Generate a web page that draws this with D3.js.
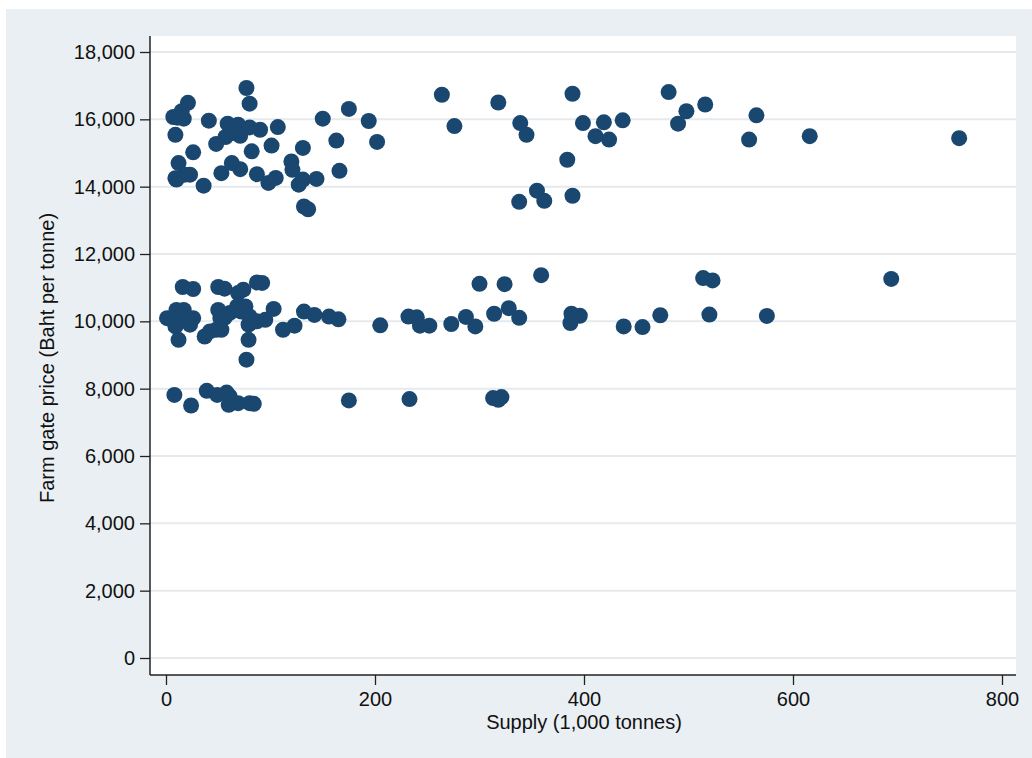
<!DOCTYPE html>
<html>
<head>
<meta charset="utf-8">
<script src="https://cdn.jsdelivr.net/npm/d3@7"></script>
<style>
  body { margin: 0; background: #fff; }
  text { font-family: "Liberation Sans", Arial, sans-serif; fill: #111; }
</style>
</head>
<body>
<div class="chart"></div>
<script>
// supply (1,000 tonnes) and farm gate price (Baht per tonne)
const supply = [
    77, 80, 21, 15, 7, 17, 11, 9, 41, 59, 69, 80, 90, 107, 63, 57, 71, 48, 101, 82,
    26, 131, 12, 10, 23, 36, 18, 9, 53, 63, 71, 87, 98, 105, 120, 121, 127, 131, 132, 136,
    144, 150, 163, 166, 175, 194, 202, 264, 276, 318, 339, 345, 384, 355, 362, 338, 389, 389, 399, 411,
    419, 424, 437, 481, 490, 498, 516, 565, 558, 616, 759,
    514, 523, 694, 123, 132, 142, 156, 165, 205, 232, 240, 243, 252, 273, 287, 296, 300, 324, 359,
    314, 328, 338, 388, 396, 387, 438, 456, 473, 520, 575, 16, 26, 50, 56, 69, 74, 87, 92, 1,
    10, 17, 13, 26, 23, 9, 12, 20, 37, 42, 48, 53, 50, 52, 56, 61, 68, 76, 72, 80,
    79, 87, 95, 103, 79, 77, 112,
    8, 24, 39, 49, 58, 61, 60, 69, 80, 84, 175, 233, 313, 321, 318
];
const price = [
    16930, 16465, 16490, 16240, 16070, 16020, 16050, 15540, 15960, 15870, 15840, 15760, 15690, 15770, 15590, 15475, 15510, 15270, 15220, 15050,
    15020, 15150, 14700, 14210, 14355, 14030, 14355, 14250, 14400, 14700, 14520, 14370, 14110, 14260, 14750, 14500, 14060, 14210, 13410, 13330,
    14230, 16020, 15370, 14470, 16310, 15950, 15330, 16730, 15800, 16500, 15890, 15540, 14800, 13880, 13580, 13550, 13730, 16760, 15890, 15500,
    15910, 15400, 15970, 16810, 15870, 16240, 16440, 16120, 15400, 15500, 15440,
    11285, 11215, 11260, 9870, 10290, 10190, 10140, 10060, 9880, 10140, 10120, 9870, 9870, 9920, 10130, 9850, 11115, 11105, 11370,
    10225, 10390, 10105, 10225, 10165, 9950, 9850, 9830, 10180, 10200, 10160, 11020, 10960, 11020, 10970, 10840, 10940, 11155, 11140, 10095,
    10340, 10340, 10045, 10095, 9900, 9850, 9450, 10095, 9550, 9700, 9750, 9750, 10340, 10100, 10100, 10250, 10440, 10440, 10290, 10145,
    9900, 10000, 10045, 10370, 9450, 8860, 9750,
    7815, 7500, 7935, 7815, 7885, 7770, 7520, 7570, 7570, 7550, 7650, 7690, 7720, 7750, 7670
];
const xTicks = [0, 200, 400, 600, 800];
const yTicks = [0, 2000, 4000, 6000, 8000, 10000, 12000, 14000, 16000, 18000];

const points = supply.map((s, i) => ({ s: s, p: price[i] }));

const W = 1032, H = 758;
const plot = { left: 150, right: 1016, top: 36, bottom: 675 };

const x = d3.scaleLinear().domain([0, 800]).range([166, 1002]);
const y = d3.scaleLinear().domain([0, 18000]).range([658, 52]);

const svg = d3.select('.chart')
    .append('svg')
        .attr('width', W)
        .attr('height', H);

// graph region and plot region
svg.append('rect')
    .attr('x', 6).attr('y', 9)
    .attr('width', W - 6).attr('height', H - 9)
    .attr('fill', '#e9eff2');

svg.append('rect')
    .attr('x', plot.left).attr('y', plot.top)
    .attr('width', plot.right - plot.left).attr('height', plot.bottom - plot.top)
    .attr('fill', '#fff');

// horizontal grid
svg.append('g')
    .selectAll('line')
    .data(yTicks)
    .enter()
        .append('line')
        .attr('x1', plot.left)
        .attr('x2', plot.right)
        .attr('y1', d => y(d))
        .attr('y2', d => y(d))
        .attr('stroke', '#e6eaed')
        .attr('stroke-width', 2);

// axes
const yAxis = svg.append('g')
    .attr('transform', `translate(${plot.left},0)`)
    .call(d3.axisLeft(y).tickValues(yTicks).tickFormat(d3.format(',')).tickSize(10).tickPadding(5));

const xAxis = svg.append('g')
    .attr('transform', `translate(0,${plot.bottom})`)
    .call(d3.axisBottom(x).tickValues(xTicks).tickFormat(d3.format(',')).tickSize(10).tickPadding(7));

[yAxis, xAxis].forEach(g => {
    g.select('.domain').remove();
    g.selectAll('.tick line').attr('stroke', '#222').attr('stroke-width', 1.3);
    g.selectAll('.tick text')
        .style('font-family', '"Liberation Sans", Arial, sans-serif')
        .style('font-size', '20px')
        .attr('fill', '#111');
});

svg.append('line')
    .attr('x1', plot.left).attr('x2', plot.left)
    .attr('y1', plot.top).attr('y2', plot.bottom)
    .attr('stroke', '#222').attr('stroke-width', 1.5);

svg.append('line')
    .attr('x1', plot.left).attr('x2', plot.right)
    .attr('y1', plot.bottom).attr('y2', plot.bottom)
    .attr('stroke', '#222').attr('stroke-width', 1.5);

// markers
svg.append('g')
    .selectAll('circle')
    .data(points)
    .enter()
        .append('circle')
        .attr('cx', d => x(d.s))
        .attr('cy', d => y(d.p))
        .attr('r', 8)
        .attr('fill', '#1a476f');

// axis titles
svg.append('text')
    .attr('x', 584)
    .attr('y', 729)
    .attr('text-anchor', 'middle')
    .style('font-size', '20px')
    .text('Supply (1,000 tonnes)');

svg.append('text')
    .attr('transform', 'translate(54,358) rotate(-90)')
    .attr('text-anchor', 'middle')
    .style('font-size', '20px')
    .text('Farm gate price (Baht per tonne)');
</script>
</body>
</html>
